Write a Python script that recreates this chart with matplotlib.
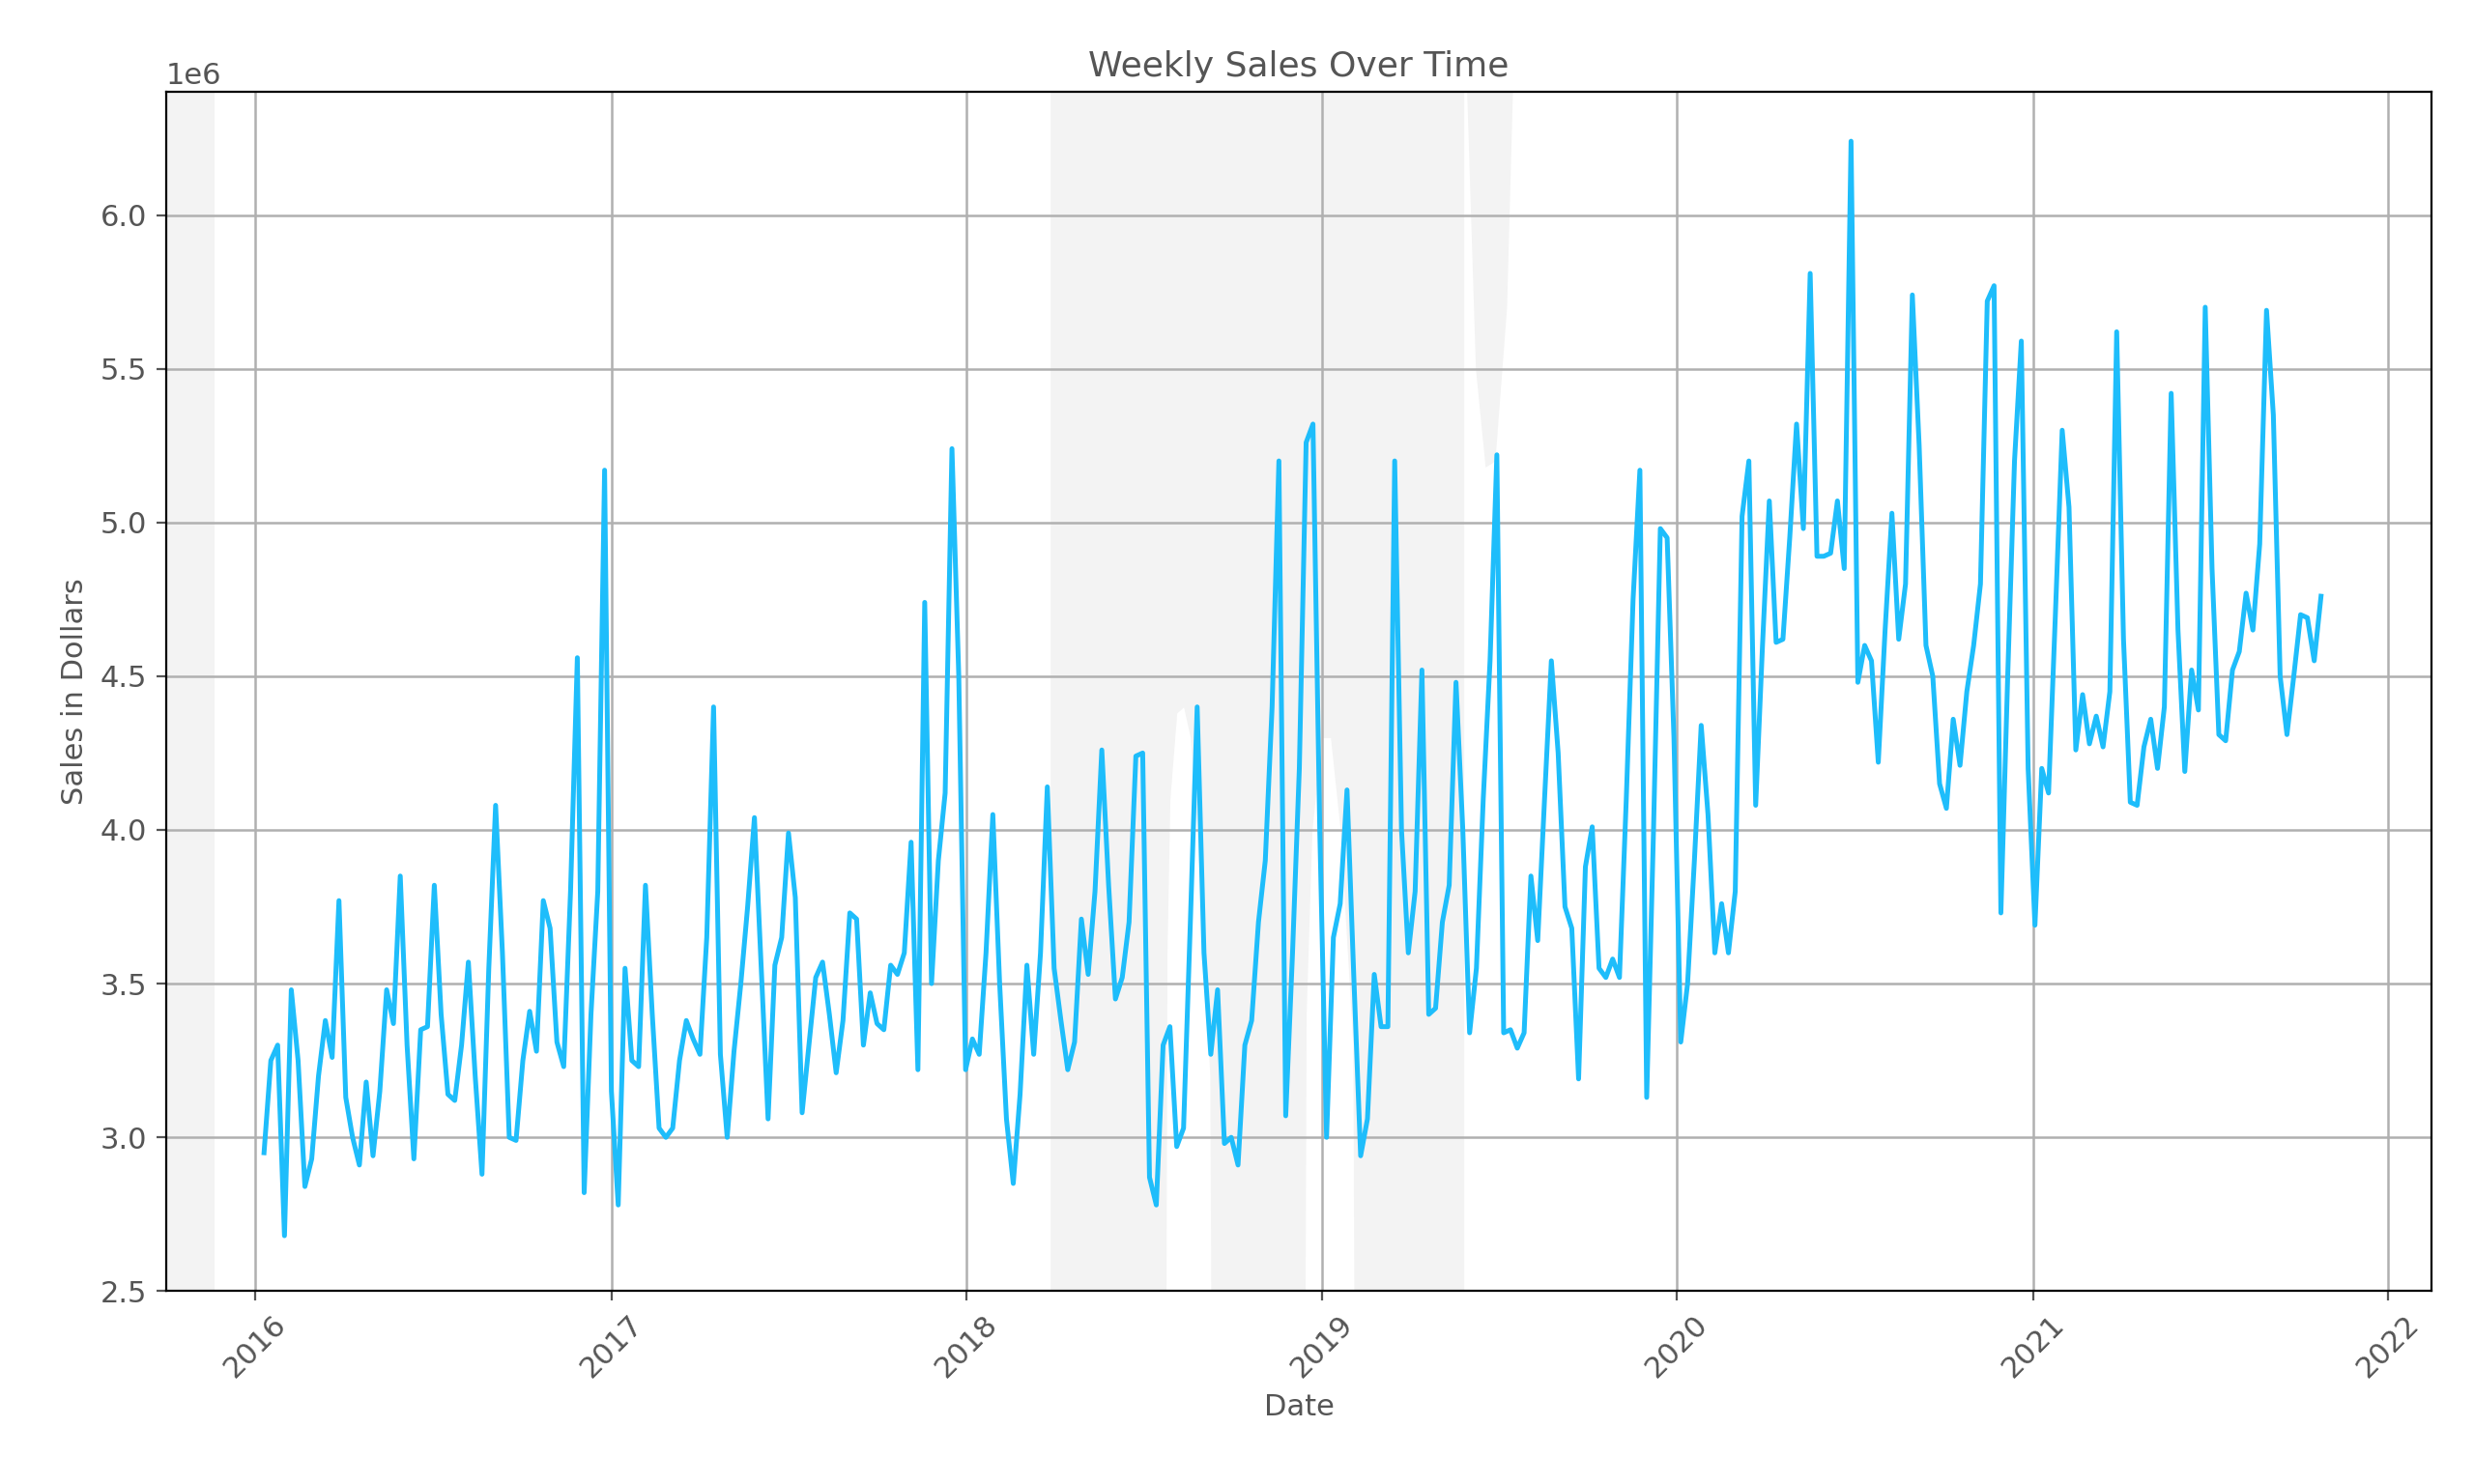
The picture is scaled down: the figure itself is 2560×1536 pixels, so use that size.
import matplotlib
matplotlib.use("Agg")
import matplotlib.pyplot as plt
import matplotlib.dates as mdates
import numpy as np
import pandas as pd

sales_m = [
2.95,3.25,3.3,2.68,3.48,3.25,2.84,2.93,3.2,3.38,3.26,3.77,3.13,3.0,2.91,3.18,2.94,3.15,3.48,3.37,3.85,3.3,2.93,3.35,3.36,3.82,3.4,3.14,3.12,3.3,3.57,3.2,2.88,3.55,4.08,3.6,3.0,2.99,3.25,3.41,3.28,3.77,3.68,3.31,3.23,3.8,4.56,2.82,3.4,3.8,5.17,
3.15,2.78,3.55,3.25,3.23,3.82,3.4,3.03,3.0,3.03,3.25,3.38,3.32,3.27,3.65,4.4,3.27,3.0,3.28,3.5,3.75,4.04,3.55,3.06,3.56,3.65,3.99,3.78,3.08,3.3,3.52,3.57,3.4,3.21,3.38,3.73,3.71,3.3,3.47,3.37,3.35,3.56,3.53,3.6,3.96,3.22,4.74,3.5,3.9,4.12,5.24,4.5,
3.22,3.32,3.27,3.6,4.05,3.5,3.06,2.85,3.14,3.56,3.27,3.6,4.14,3.55,3.38,3.22,3.31,3.71,3.53,3.8,4.26,3.82,3.45,3.52,3.7,4.24,4.25,2.87,2.78,3.3,3.36,2.97,3.03,3.7,4.4,3.6,3.27,3.48,2.98,3.0,2.91,3.3,3.38,3.7,3.9,4.4,5.2,3.07,3.6,4.2,5.26,5.32,
4.0,3.0,3.65,3.76,4.13,3.52,2.94,3.06,3.53,3.36,3.36,5.2,4.0,3.6,3.8,4.52,3.4,3.42,3.7,3.82,4.48,4.0,3.34,3.55,4.1,4.55,5.22,3.34,3.35,3.29,3.34,3.85,3.64,4.1,4.55,4.25,3.75,3.68,3.19,3.88,4.01,3.55,3.52,3.58,3.52,4.1,4.75,5.17,3.13,4.0,4.98,4.95,
4.3,3.31,3.5,3.9,4.34,4.05,3.6,3.76,3.6,3.8,5.02,5.2,4.08,4.6,5.07,4.61,4.62,4.95,5.32,4.98,5.81,4.89,4.89,4.9,5.07,4.85,6.24,4.48,4.6,4.55,4.22,4.65,5.03,4.62,4.8,5.74,5.25,4.6,4.5,4.15,4.07,4.36,4.21,4.45,4.6,4.8,5.72,5.77,3.73,4.5,5.2,5.59,
4.2,3.69,4.2,4.12,4.7,5.3,5.05,4.26,4.44,4.28,4.37,4.27,4.45,5.62,4.62,4.09,4.08,4.27,4.36,4.2,4.4,5.42,4.65,4.19,4.52,4.39,5.7,4.85,4.31,4.29,4.52,4.58,4.77,4.65,4.93,5.69,5.35,4.5,4.31,4.5,4.7,4.69,4.55,4.76]
dates = pd.date_range("2016-01-10", periods=len(sales_m), freq="7D")
sales = np.array(sales_m) * 1e6

# shaded background regions (dates, lower bound in millions)
shadeA_x = ["2015-10-01", "2015-11-20"]
shadeB_x = ["2018-03-28","2018-07-25","2018-07-26","2018-07-29","2018-08-05","2018-08-12","2018-08-19","2018-08-26","2018-09-08","2018-09-09",
            "2018-12-15","2018-12-16","2018-12-22","2019-01-01","2019-01-10","2019-01-20","2019-02-02","2019-02-03","2019-05-27"]
shadeB_lo = [2.5,2.5,3.6,4.1,4.38,4.4,4.3,4.0,3.2,2.5,
             2.5,3.4,4.0,4.3,4.3,4.0,3.3,2.5,2.5]
shadeC_x = ["2019-05-30","2019-06-08","2019-06-18","2019-06-28","2019-07-10","2019-07-16"]
shadeC_lo = [6.4,5.5,5.18,5.2,5.7,6.4]

fig, ax = plt.subplots(figsize=(12.8, 7.68), dpi=200)
gc = "#f3f3f3"
ax.fill_between(pd.to_datetime(shadeA_x), 2.5e6, 6.4e6, color=gc, lw=0, zorder=0)
ax.fill_between(pd.to_datetime(shadeB_x), np.array(shadeB_lo)*1e6, 6.4e6, color=gc, lw=0, zorder=0)
ax.fill_between(pd.to_datetime(shadeC_x), np.array(shadeC_lo)*1e6, 6.4e6, color=gc, lw=0, zorder=0)

ax.plot(dates, sales, color="#1ebdfb", lw=1.8, zorder=3)
ax.set_xlim(pd.Timestamp("2015-10-01"), pd.Timestamp("2022-02-15"))
ax.set_ylim(2.5e6, 6.4e6)
ax.xaxis.set_major_locator(mdates.YearLocator())
ax.xaxis.set_major_formatter(mdates.DateFormatter("%Y"))
ax.grid(True, color="#b0b0b0", lw=0.9, zorder=1)
ax.set_axisbelow(True)
tc = "#555555"
ax.set_title("Weekly Sales Over Time", color=tc, fontsize=13)
ax.set_xlabel("Date", color=tc, fontsize=11)
ax.set_ylabel("Sales in Dollars", color=tc, fontsize=11)
ax.tick_params(colors=tc, labelsize=11)
ax.yaxis.get_offset_text().set_color(tc)
ax.yaxis.get_offset_text().set_fontsize(11)
plt.setp(ax.get_xticklabels(), rotation=45)
for s in ax.spines.values():
    s.set_color("black")
fig.subplots_adjust(left=0.067, right=0.983, top=0.938, bottom=0.13)
fig.savefig("out.png")
